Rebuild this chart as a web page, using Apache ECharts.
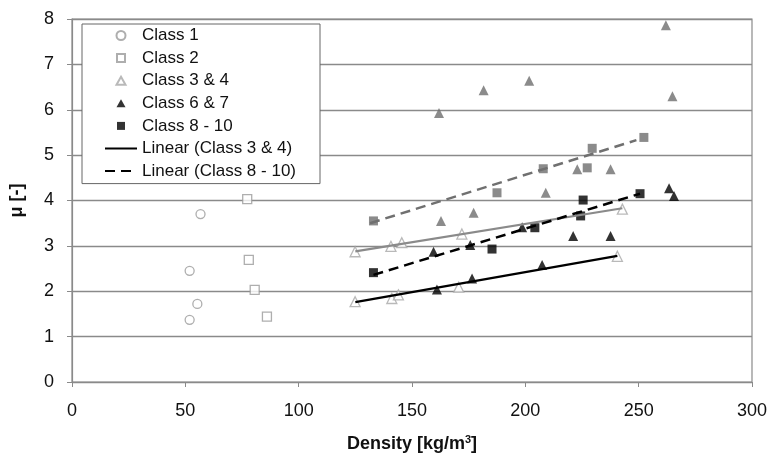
<!DOCTYPE html>
<html>
<head>
<meta charset="utf-8">
<script src="https://cdn.jsdelivr.net/npm/echarts@6/dist/echarts.min.js"></script>
<style>html,body{margin:0;padding:0;background:#fff}#c{width:771px;height:469px}</style>
</head>
<body>
<div id="c"></div>
<script>
// ---- data (density kg/m3, mu) ----
const class1 = [[56.7,3.70],[51.9,2.45],[55.3,1.72],[51.9,1.37]];
const class2 = [[77.3,4.03],[78.0,2.69],[80.6,2.03],[86.0,1.44]];
const class34 = [[124.9,2.87],[140.7,2.99],[145.5,3.07],[172.0,3.26],[242.8,3.81],
                 [124.9,1.77],[141.1,1.84],[144.0,1.92],[170.6,2.09],[240.6,2.77]];
const class67 = [[161.0,2.04],[176.5,2.28],[159.5,2.87],[175.7,3.02],[198.6,3.41],
                 [207.4,2.58],[221.1,3.22],[237.6,3.22],[263.4,4.27],[265.6,4.10]];
const class810 = [[133.0,2.41],[185.3,2.93],[204.2,3.40],[224.4,3.66],[225.5,4.01],[250.6,4.15]];
const class67b = [[262.0,7.86],[181.6,6.43],[201.7,6.64],[161.9,5.93],[264.9,6.30],
                  [222.9,4.69],[237.6,4.69],[209.0,4.17],[162.8,3.55],[177.2,3.73]];
const class810b = [[252.3,5.39],[229.5,5.15],[207.9,4.70],[227.3,4.72],[187.5,4.17],[133.0,3.55]];
const lin34 = [[125,1.76],[240.6,2.78]];
const lin34b = [[125,2.88],[242.8,3.83]];
const lin810 = [[133,2.36],[250.6,4.15]];
const lin810b = [[131.5,3.50],[249,5.33]];
const xTicks = [0,50,100,150,200,250,300];
const yTicks = [0,1,2,3,4,5,6,7,8];
const legendNames = ['Class 1','Class 2','Class 3 & 4','Class 6 & 7','Class 8 - 10','Linear (Class 3 & 4)','Linear (Class 8 - 10)'];

const FONT = 'Liberation Sans, Arial, sans-serif';
// legend icons padded to a 32x10 box so marker stays small and centred
const ICON_CIRCLE = 'path://M0,0 M32,10 M20.5,5 A4.5,4.5 0 1 1 11.5,5 A4.5,4.5 0 1 1 20.5,5 Z';
const ICON_RECT = 'path://M0,0 M32,10 M12,1 L20,1 L20,9 L12,9 Z';
const ICON_TRI = 'path://M0,0 M32,10 M16,1 L20.5,9 L11.5,9 Z';

const chart = echarts.init(document.getElementById('c'), null, {renderer:'canvas'});
const openStyle = c => ({color:'#fff', borderColor:c, borderWidth:1.3});
chart.setOption({
  animation:false,
  textStyle:{fontFamily:FONT},
  grid:{left:72, right:19, top:19, bottom:87, show:true, borderColor:'#8a8a8a', borderWidth:1.2, backgroundColor:'transparent'},
  legend:{
    orient:'vertical', left:82, top:24,
    data:[
      {name:legendNames[0], icon:ICON_CIRCLE},
      {name:legendNames[1], icon:ICON_RECT},
      {name:legendNames[2], icon:ICON_TRI},
      {name:legendNames[3], icon:ICON_TRI},
      {name:legendNames[4], icon:ICON_RECT},
      {name:legendNames[5], itemStyle:{opacity:0}},
      {name:legendNames[6], itemStyle:{opacity:0}}
    ],
    itemWidth:32, itemHeight:10, itemGap:3.6,
    padding:[2,24,3,22],
    borderColor:'#666', borderWidth:1, backgroundColor:'#fff',
    textStyle:{fontFamily:FONT, fontSize:17, color:'#111', lineHeight:19}
  },
  xAxis:{
    type:'value', min:xTicks[0], max:xTicks[xTicks.length-1], interval:50,
    name:'{a|Density [kg/m}{s|3}{a|]}', nameLocation:'middle', nameGap:52,
    nameTextStyle:{rich:{a:{fontFamily:FONT,fontSize:18,fontWeight:'bold',color:'#111'},
                         s:{fontFamily:FONT,fontSize:11,fontWeight:'bold',color:'#111',verticalAlign:'top',padding:[0,0,10,0]}}},
    axisLine:{lineStyle:{color:'#8a8a8a',width:1.2}},
    axisTick:{show:true,length:5,lineStyle:{color:'#8a8a8a'}},
    axisLabel:{fontFamily:FONT,fontSize:18,color:'#111',margin:20},
    splitLine:{show:false}
  },
  yAxis:{
    type:'value', min:yTicks[0], max:yTicks[yTicks.length-1], interval:1,
    name:'μ [-]', nameLocation:'middle', nameGap:46, nameRotate:90,
    nameTextStyle:{fontFamily:FONT,fontSize:18,fontWeight:'bold',color:'#111'},
    axisLine:{show:true,lineStyle:{color:'#8a8a8a',width:1.2}},
    axisTick:{show:true,length:5,lineStyle:{color:'#8a8a8a'}},
    axisLabel:{fontFamily:FONT,fontSize:18,color:'#111',margin:18},
    splitLine:{show:true,lineStyle:{color:'#8a8a8a',width:1.3}}
  },
  series:[
    {name:'Class 1', type:'scatter', data:class1, symbol:'circle', symbolSize:9, itemStyle:openStyle('#9a9a9a')},
    {name:'Class 2', type:'scatter', data:class2, symbol:'rect', symbolSize:9, itemStyle:openStyle('#9a9a9a')},
    {name:'Class 3 & 4', type:'scatter', data:class34, symbol:'triangle', symbolSize:10, itemStyle:openStyle('#a8a8a8')},
    {name:'Class 6 & 7', type:'scatter', data:class67, symbol:'triangle', symbolSize:10, itemStyle:{color:'#000'}},
    {name:'Class 8 - 10', type:'scatter', data:class810, symbol:'rect', symbolSize:9, itemStyle:{color:'#000'}},
    {name:'Class 6 & 7 (b)', type:'scatter', data:class67b, symbol:'triangle', symbolSize:10, itemStyle:{color:'#6e6e6e'}},
    {name:'Class 8 - 10 (b)', type:'scatter', data:class810b, symbol:'rect', symbolSize:9, itemStyle:{color:'#6e6e6e'}},
    {name:'Linear (Class 3 & 4)', type:'line', data:lin34, symbol:'none', z:3, lineStyle:{color:'#000',width:2.5,type:'solid'}, itemStyle:{color:'#000'}},
    {name:'Linear (Class 3 & 4) b', type:'line', data:lin34b, symbol:'none', z:3, lineStyle:{color:'#8a8a8a',width:2.2,type:'solid'}},
    {name:'Linear (Class 8 - 10)', type:'line', data:lin810, symbol:'none', z:3, lineStyle:{color:'#000',width:2.5,type:[10,6]}, itemStyle:{color:'#000'}},
    {name:'Linear (Class 8 - 10) b', type:'line', data:lin810b, symbol:'none', z:3, lineStyle:{color:'#707070',width:2.5,type:[10,6]}}
  ]
});
</script>
</body>
</html>
